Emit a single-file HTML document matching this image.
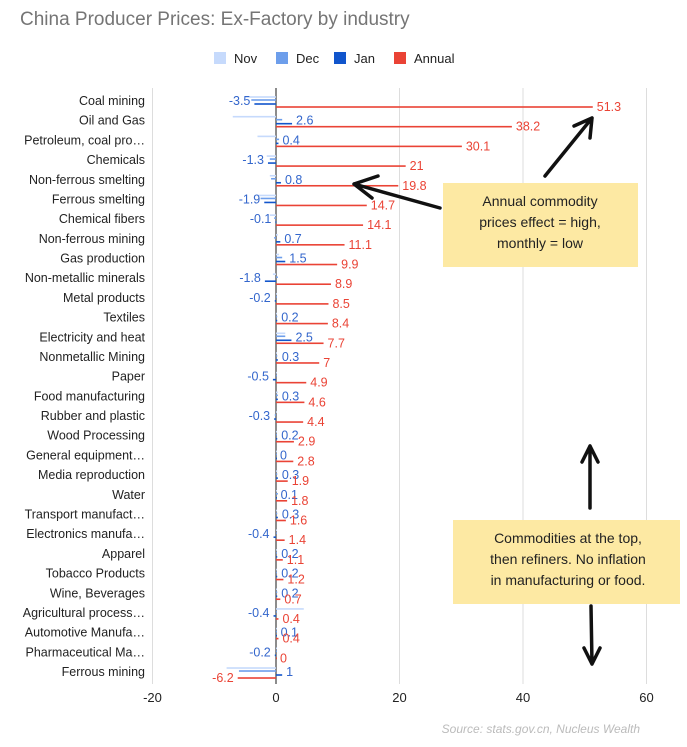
<!DOCTYPE html>
<html><head><meta charset="utf-8"><style>
body{margin:0;background:#fff;font-family:"Liberation Sans",sans-serif}
svg text{font-family:"Liberation Sans",sans-serif}
</style></head><body>
<svg id="c" width="687" height="742">
<text x="20" y="25" font-size="19" fill="#757575">China Producer Prices: Ex-Factory by industry</text>
<g id="legend"></g>
<g id="grid"></g>
<g id="bars"></g>
<g id="labels"></g>
<text x="640" y="733" font-size="12" fill="#bbbbbb" font-style="italic" text-anchor="end">Source: stats.gov.cn, Nucleus Wealth</text>
<g>
<rect x="443" y="183" width="195" height="84" fill="#fde9a3"/>
<text x="540" y="206" font-size="14" fill="#222" text-anchor="middle"><tspan x="540">Annual commodity</tspan><tspan x="540" dy="21">prices effect = high,</tspan><tspan x="540" dy="21">monthly = low</tspan></text>
</g>
<g>
<rect x="453" y="520" width="227" height="84" fill="#fde9a3"/>
<text x="568" y="543" font-size="14" fill="#222" text-anchor="middle"><tspan x="568">Commodities at the top,</tspan><tspan x="568" dy="21">then refiners. No inflation</tspan><tspan x="568" dy="21">in manufacturing or food.</tspan></text>
</g>
<g stroke="#111" stroke-width="3.5" fill="none" stroke-linecap="round">
<path d="M440 208 L354 184 M354 184 L378 176 M354 184 L372 198"/>
<path d="M545 176 L592 118 M592 118 L574 126 M592 118 L590 138"/>
<path d="M590 508 L590 446 M590 446 L582 462 M590 446 L598 462"/>
<path d="M591 606 L592 664 M592 664 L584 648 M592 664 L600 648"/>
</g>
</svg>
<script>
const categories=["Coal mining","Oil and Gas","Petroleum, coal pro…","Chemicals","Non-ferrous smelting","Ferrous smelting","Chemical fibers","Non-ferrous mining","Gas production","Non-metallic minerals","Metal products","Textiles","Electricity and heat","Nonmetallic Mining","Paper","Food manufacturing","Rubber and plastic","Wood Processing","General equipment…","Media reproduction","Water","Transport manufact…","Electronics manufa…","Apparel","Tobacco Products","Wine, Beverages","Agricultural process…","Automotive Manufa…","Pharmaceutical Ma…","Ferrous mining"];
const nov=[-5,-7,-3,-1.5,-1,-3,-1,0.3,0.5,-0.5,0,0,1.5,0,0,0.3,0,0.1,0,0.2,0.1,0.1,0,0.1,0.1,0,4.5,0.1,0.1,-8];
const dec=[-4,1,0.5,-1,-0.8,-2.5,-0.3,-0.3,1,0.3,0,0.2,1.5,0.2,0,0.3,-0.2,0.1,0,0.2,0.3,0.2,0,0.1,0.1,0.2,0,0.1,0.1,-6];
const jan=[-3.5,2.6,0.4,-1.3,0.8,-1.9,-0.1,0.7,1.5,-1.8,-0.2,0.2,2.5,0.3,-0.5,0.3,-0.3,0.2,0,0.3,0.1,0.3,-0.4,0.2,0.2,0.2,-0.4,0.1,-0.2,1];
const annual=[51.3,38.2,30.1,21,19.8,14.7,14.1,11.1,9.9,8.9,8.5,8.4,7.7,7,4.9,4.6,4.4,2.9,2.8,1.9,1.8,1.6,1.4,1.1,1.2,0.7,0.4,0.4,0,-6.2];
const xTicks=[-20,0,20,40,60];
const series=[["Nov",nov,"#c6dafc"],["Dec",dec,"#6d9eeb"],["Jan",jan,"#1155cc"],["Annual",annual,"#ea4335"]];
const NS="http://www.w3.org/2000/svg";
const X=v=>276+v*6.175, Y=i=>101+i*19.69;
function mk(p,t,a){const e=document.createElementNS(NS,t);for(const k in a)e.setAttribute(k,a[k]);p.appendChild(e);return e;}
const grid=document.getElementById('grid'),bars=document.getElementById('bars'),lab=document.getElementById('labels'),lg=document.getElementById('legend');
xTicks.forEach(t=>{
 const l=mk(grid,'line',{x1:X(t),x2:X(t),y1:88,y2:684,stroke:t===0?'#666':'#ddd','stroke-width':t===0?1.5:1});
 
 
 const tx=mk(grid,'text',{x:X(t),y:702,'font-size':13,fill:'#222','text-anchor':'middle'});tx.textContent=t;
 
 
});
const offs=[-4,-1,3,6];
categories.forEach((c,i)=>{
 const t=mk(lab,'text',{x:145,y:Y(i)+4,'font-size':12.5,fill:'#222','text-anchor':'end'});t.textContent=c;
 
 
 series.forEach((s,k)=>{
  const v=s[1][i],y=Y(i)+offs[k];
  const r=mk(bars,'rect',{x:Math.min(X(0),X(v)),y:y-0.8,width:Math.max(Math.abs(X(v)-X(0)),1),height:1.6,fill:s[2]});
  
  
  if(k>=2){
   const pos=v>=0,tx=mk(bars,'text',{x:pos?X(v)+4:X(v)-4,y:y+(k===2?1:4),'font-size':12.5,fill:k===2?'#3366cc':'#ea4335','text-anchor':pos?'start':'end'});
   tx.textContent=v;
   
   
  }
 });
});
const lx=[214,276,334,394];
series.forEach((s,k)=>{
 const r=mk(lg,'rect',{x:lx[k],y:52,width:12,height:12,fill:s[2]});
 
 
 const t=mk(lg,'text',{x:lx[k]+20,y:63,'font-size':13,fill:'#222'});t.textContent=s[0];
 
 
});
</script>
</body></html>
